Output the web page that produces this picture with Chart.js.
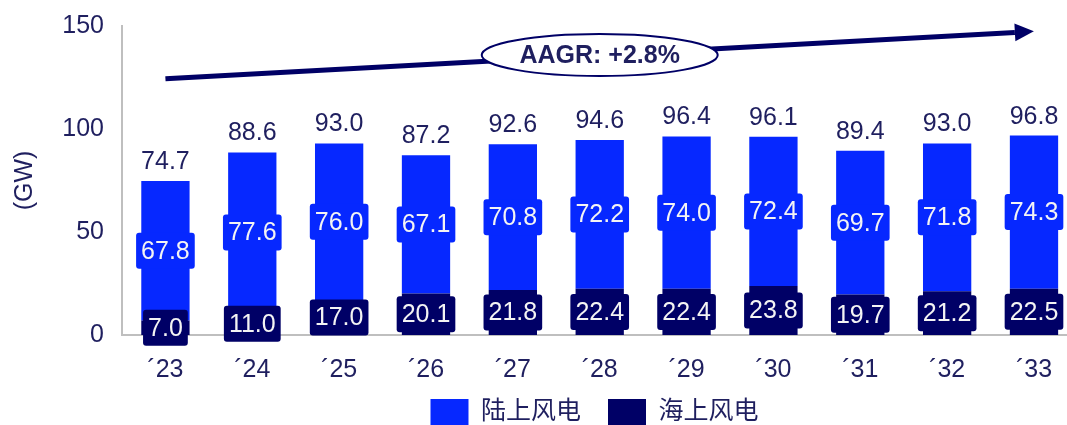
<!DOCTYPE html>
<html>
<head>
<meta charset="utf-8">
<script src="https://cdn.jsdelivr.net/npm/chart.js@4"></script>
<style>
  html, body { margin: 0; padding: 0; background: #fff; }
  #wrap { width: 1067px; height: 425px; }
</style>
</head>
<body>
<div id="wrap"><canvas id="windChart"></canvas></div>
<script>
const years = ['´23', '´24', '´25', '´26', '´27', '´28', '´29', '´30', '´31', '´32', '´33'];
const onshore = [67.8, 77.6, 76.0, 67.1, 70.8, 72.2, 74.0, 72.4, 69.7, 71.8, 74.3];
const offshore = [7.0, 11.0, 17.0, 20.1, 21.8, 22.4, 22.4, 23.8, 19.7, 21.2, 22.5];
const totals = [74.7, 88.6, 93.0, 87.2, 92.6, 94.6, 96.4, 96.1, 89.4, 93.0, 96.8];
const yTicks = [0, 50, 100, 150];

// trend arrow, in chart units (x = year index, y = GW)
const trendX = [0, 9.78];
const trendY = [124.4, 146.9];
const aagrText = 'AAGR: +2.8%';
const aagrAt = 5;

const BLUE = '#0628FF';
const NAVY = '#000066';
const INK = '#1F1F5F';
const FONT = "'Liberation Sans', Arial, 'Noto Sans CJK SC', sans-serif";

const labelPlugin = {
  id: 'barLabels',
  afterLayout(chart) {
    // legend sits just under the year labels, centred under the plot area
    const lg = chart.legend, ca = chart.chartArea;
    lg.left = ca.left;
    lg.right = ca.right;
    lg.top = ca.bottom + 37;
    lg.bottom = lg.top + lg.height;
  },
  afterDatasetsDraw(chart) {
    const ctx = chart.ctx;
    const offBars = chart.getDatasetMeta(0).data;
    const onBars = chart.getDatasetMeta(1).data;
    ctx.save();
    ctx.font = '25px ' + FONT;
    ctx.textAlign = 'center';
    ctx.textBaseline = 'middle';
    [[onBars, onshore, BLUE], [offBars, offshore, NAVY]].forEach(([bars, vals, col]) => {
      bars.forEach((bar, i) => {
        const txt = vals[i].toFixed(1);
        const cy = (bar.y + bar.base) / 2;
        const w = ctx.measureText(txt).width + 10;
        ctx.fillStyle = col;
        ctx.beginPath();
        ctx.roundRect(bar.x - w / 2, cy - 18, w, 36, 3);
        ctx.fill();
        ctx.fillStyle = '#F4F4F4';
        ctx.fillText(txt, bar.x, cy + 1);
      });
    });

    // totals above the bars
    ctx.fillStyle = INK;
    ctx.textBaseline = 'alphabetic';
    onBars.forEach((bar, i) => ctx.fillText(totals[i].toFixed(1), bar.x, bar.y - 12));

    // arrow head
    const pts = chart.getDatasetMeta(2).data;
    const a = pts[0], b = pts[1];
    const ang = Math.atan2(b.y - a.y, b.x - a.x);
    const c = Math.cos(ang), s = Math.sin(ang);
    ctx.fillStyle = NAVY;
    ctx.beginPath();
    ctx.moveTo(b.x + 19 * c, b.y + 19 * s);
    ctx.lineTo(b.x + 9 * s, b.y - 9 * c);
    ctx.lineTo(b.x - 9 * s, b.y + 9 * c);
    ctx.closePath();
    ctx.fill();

    // AAGR ellipse sitting on the trend line
    const ex = chart.scales.x.getPixelForValue(aagrAt);
    const ey = a.y + (b.y - a.y) * (ex - a.x) / (b.x - a.x);
    ctx.beginPath();
    ctx.ellipse(ex, ey, 118, 21, 0, 0, Math.PI * 2);
    ctx.fillStyle = '#FFFFFF';
    ctx.fill();
    ctx.lineWidth = 2;
    ctx.strokeStyle = NAVY;
    ctx.stroke();
    ctx.fillStyle = INK;
    ctx.font = 'bold 25px ' + FONT;
    ctx.textBaseline = 'middle';
    ctx.fillText(aagrText, ex, ey + 1);
    ctx.restore();
  }
};

new Chart(document.getElementById('windChart'), {
  type: 'bar',
  data: {
    datasets: [
      {
        label: '海上风电',
        data: offshore.map((v, i) => ({ x: i, y: v })),
        backgroundColor: NAVY
      },
      {
        label: '陆上风电',
        data: onshore.map((v, i) => ({ x: i, y: v })),
        backgroundColor: BLUE
      },
      {
        type: 'line',
        label: 'trend',
        stack: 'trend',
        data: trendX.map((x, i) => ({ x: x, y: trendY[i] })),
        borderColor: NAVY,
        borderWidth: 5,
        pointRadius: 0,
        fill: false
      }
    ]
  },
  options: {
    responsive: true,
    maintainAspectRatio: false,
    animation: false,
    layout: { padding: { left: 0, right: 0, top: 26, bottom: -23 } },
    datasets: { bar: { barPercentage: 0.556, categoryPercentage: 1, borderWidth: 0 } },
    plugins: {
      legend: {
        position: 'bottom',
        reverse: true,
        labels: {
          filter: item => item.datasetIndex < 2,
          boxWidth: 38,
          boxHeight: 26,
          padding: 27,
          color: INK,
          font: { size: 25, family: FONT }
        }
      },
      tooltip: { enabled: false }
    },
    scales: {
      x: {
        type: 'linear',
        offset: false,
        stacked: true,
        min: -0.5,
        max: 10.38,
        grid: { display: false, drawTicks: false, offset: false },
        border: { color: '#BFBFBF', width: 2 },
        afterBuildTicks: s => { s.ticks = years.map((_, i) => ({ value: i })); },
        ticks: {
          callback: v => years[v],
          padding: 20,
          maxRotation: 0,
          autoSkip: false,
          color: INK,
          font: { size: 25, family: FONT }
        },
        afterFit: s => { s.height = 50; s.paddingLeft = 0; s.paddingRight = 0; }
      },
      y: {
        stacked: true,
        min: 0,
        max: 150,
        afterBuildTicks: s => { s.ticks = yTicks.map(v => ({ value: v })); },
        grid: { display: false, drawTicks: false },
        border: { color: '#BFBFBF', width: 2 },
        ticks: {
          padding: 18,
          color: INK,
          font: { size: 25, family: FONT }
        },
        title: {
          display: true,
          text: '(GW)',
          color: INK,
          font: { size: 25, family: FONT },
          padding: { top: 10, bottom: 0 }
        },
        afterFit: s => { s.width = 122; s.paddingTop = 0; s.paddingBottom = 0; }
      }
    }
  },
  plugins: [labelPlugin]
});
</script>
</body>
</html>
